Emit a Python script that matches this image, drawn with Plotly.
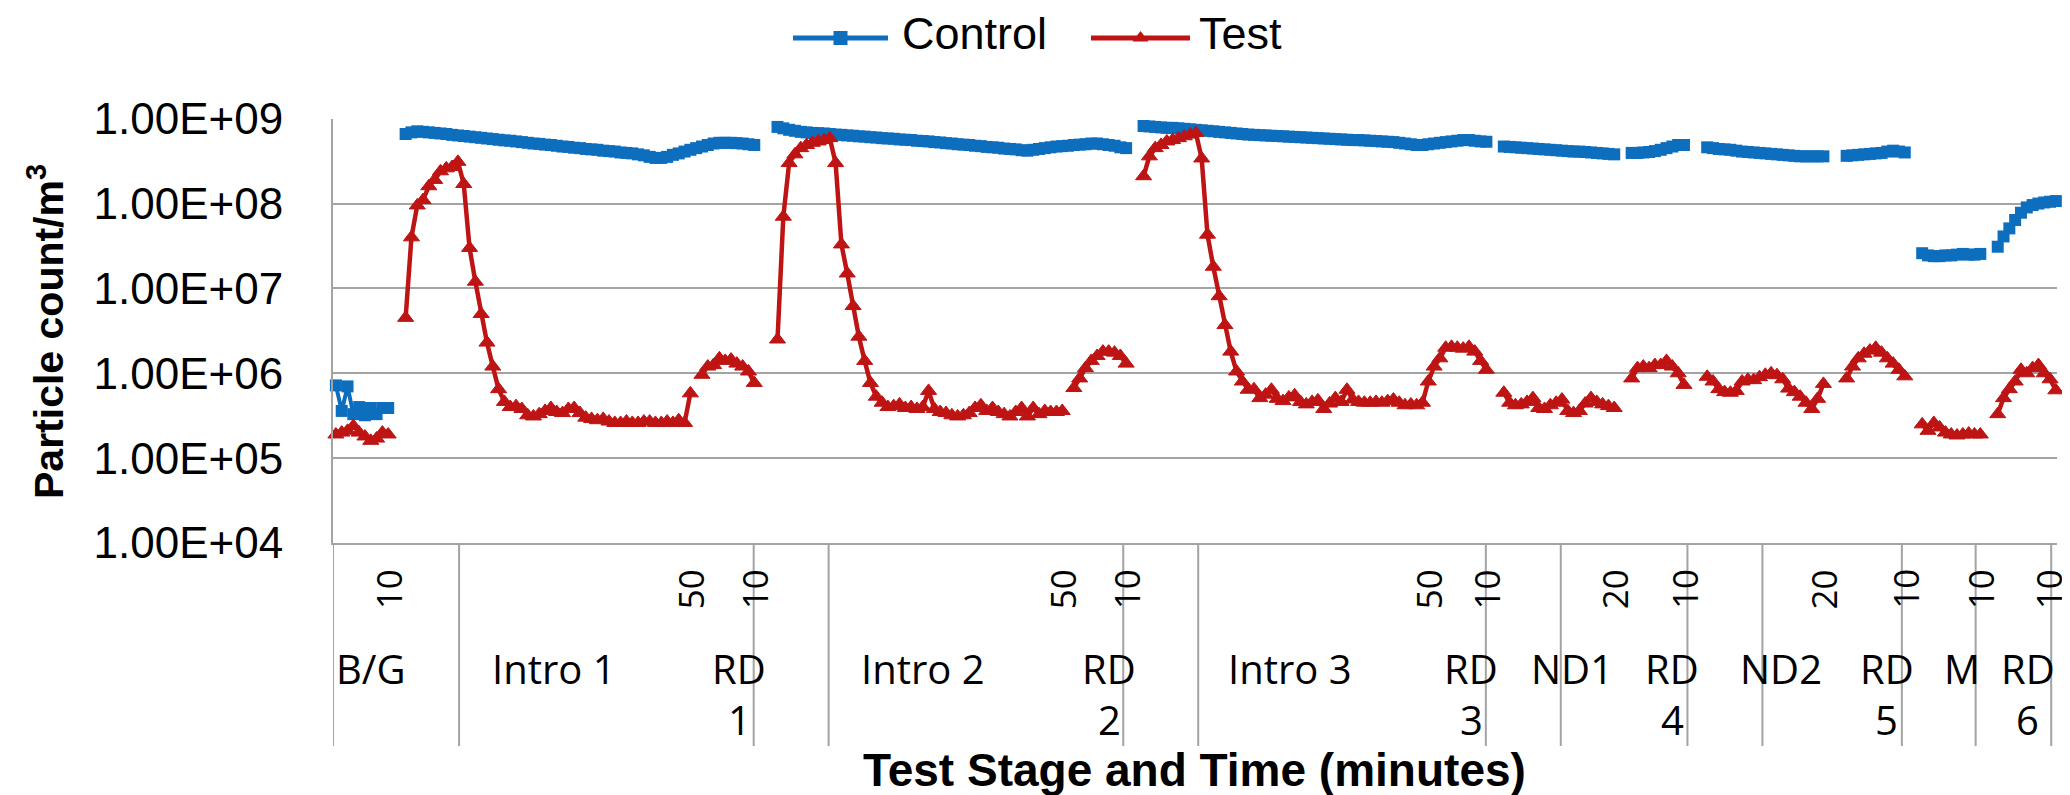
import math
import plotly.graph_objects as go

W, H = 2070, 795

# ---------------- data ----------------
stage_names = ["B/G", "Intro 1", "RD 1", "Intro 2", "RD 2", "Intro 3", "RD 3",
               "ND1", "RD 4", "ND2", "RD 5", "M", "RD 6"]
# first category index of each stage (blank categories between stages)
stage_first = [0, 12, 62, 76, 126, 139, 189, 201, 223, 236, 260, 273, 286]
# minute label shown at the end of each stage
stage_end_minute = ["10", "50", "10", "50", "10", "50", "10", "20", "10", "20", "10", "10", "10"]
# category positions of the stage-name labels and of the divider lines
group_label_pos = [6.0, 37.5, 69.4, 101.1, 133.1, 164.2, 195.4, 212.7, 230.0, 248.7, 266.9, 279.8, 291.2]
group_dividers = [-0.5, 21.2, 71.9, 84.8, 135.5, 148.4, 197.9, 210.8, 232.6, 245.5, 269.5, 282.2, 295.2]

y_tickvals = [1e4, 1e5, 1e6, 1e7, 1e8, 1e9]
y_ticktext = ["1.00E+04", "1.00E+05", "1.00E+06", "1.00E+07", "1.00E+08", "1.00E+09"]

control_bg = [7.2e5, 3.6e5, 7.0e5, 3.3e5, 4.0e5, 3.2e5, 3.9e5, 3.3e5, 3.9e5, 3.9e5]
test_bg = [1.9e5, 2.0e5, 2.1e5, 2.4e5, 2.0e5, 1.8e5, 1.6e5, 1.7e5, 2.0e5, 1.9e5]

control_intro1 = [6.6e8, 6.9e8, 7.1e8, 7.0e8, 6.9e8, 6.8e8, 6.7e8, 6.6e8, 6.45e8, 6.35e8,
                  6.25e8, 6.15e8, 6.05e8, 5.95e8, 5.85e8, 5.75e8, 5.65e8, 5.55e8, 5.5e8, 5.4e8,
                  5.3e8, 5.2e8, 5.1e8, 5.05e8, 4.95e8, 4.9e8, 4.8e8, 4.7e8, 4.65e8, 4.55e8,
                  4.5e8, 4.4e8, 4.35e8, 4.3e8, 4.2e8, 4.15e8, 4.1e8, 4.0e8, 3.95e8, 3.9e8,
                  3.8e8, 3.7e8, 3.55e8, 3.45e8, 3.45e8, 3.55e8, 3.75e8, 3.9e8, 4.1e8, 4.3e8]
test_intro1 = [4.5e6, 4.0e7, 9.5e7, 1.1e8, 1.6e8, 1.9e8, 2.4e8, 2.6e8, 2.7e8, 3.1e8,
               1.7e8, 3.0e7, 1.2e7, 5.0e6, 2.3e6, 1.2e6, 6.5e5, 4.6e5, 4.0e5, 4.1e5,
               3.8e5, 3.2e5, 3.1e5, 3.3e5, 3.6e5, 3.9e5, 3.5e5, 3.4e5, 3.8e5, 3.9e5,
               3.4e5, 3.0e5, 2.9e5, 2.8e5, 2.9e5, 2.7e5, 2.6e5, 2.6e5, 2.7e5, 2.6e5,
               2.6e5, 2.7e5, 2.7e5, 2.6e5, 2.6e5, 2.7e5, 2.6e5, 2.8e5, 2.6e5, 5.8e5]

control_rd1 = [4.5e8, 4.7e8, 4.9e8, 5.1e8, 5.2e8, 5.2e8, 5.2e8, 5.15e8, 5.1e8, 5.0e8, 4.9e8]
test_rd1 = [None, 9.6e5, 1.2e6, 1.25e6, 1.5e6, 1.4e6, 1.45e6, 1.3e6, 1.2e6, 1.05e6, 7.7e5]

control_intro2 = [8.0e8, 7.7e8, 7.4e8, 7.2e8, 7.0e8, 6.9e8, 6.8e8, 6.75e8, 6.7e8, 6.6e8,
                  6.5e8, 6.45e8, 6.35e8, 6.3e8, 6.2e8, 6.15e8, 6.05e8, 6.0e8, 5.9e8, 5.85e8,
                  5.8e8, 5.7e8, 5.65e8, 5.6e8, 5.5e8, 5.45e8, 5.4e8, 5.3e8, 5.25e8, 5.15e8,
                  5.1e8, 5.0e8, 4.95e8, 4.9e8, 4.8e8, 4.75e8, 4.65e8, 4.6e8, 4.55e8, 4.45e8,
                  4.4e8, 4.35e8, 4.25e8, 4.2e8, 4.3e8, 4.4e8, 4.5e8, 4.6e8, 4.7e8, 4.75e8]
test_intro2 = [2.5e6, 7.0e7, 3.0e8, 3.8e8, 4.5e8, 4.9e8, 5.2e8, 5.4e8, 5.6e8, 5.9e8,
               3.0e8, 3.3e7, 1.5e7, 6.2e6, 2.7e6, 1.4e6, 7.7e5, 5.3e5, 4.5e5, 4.0e5,
               4.1e5, 4.3e5, 3.9e5, 4.0e5, 3.8e5, 4.0e5, 6.2e5, 3.8e5, 3.5e5, 3.4e5,
               3.2e5, 3.1e5, 3.2e5, 3.4e5, 3.9e5, 4.2e5, 3.6e5, 3.9e5, 3.5e5, 3.3e5,
               3.1e5, 3.5e5, 3.9e5, 3.1e5, 3.9e5, 3.3e5, 3.6e5, 3.5e5, 3.5e5, 3.6e5]

control_rd2 = [4.8e8, 4.9e8, 4.95e8, 5.0e8, 5.1e8, 5.1e8, 5.0e8, 4.9e8, 4.8e8, 4.6e8, 4.5e8]
test_rd2 = [None, 6.7e5, 8.7e5, 1.15e6, 1.4e6, 1.6e6, 1.8e6, 1.8e6, 1.75e6, 1.6e6, 1.3e6]

control_intro3 = [8.2e8, 8.1e8, 8.0e8, 7.9e8, 7.8e8, 7.8e8, 7.7e8, 7.6e8, 7.5e8, 7.4e8,
                  7.3e8, 7.2e8, 7.1e8, 7.0e8, 6.9e8, 6.8e8, 6.7e8, 6.6e8, 6.5e8, 6.45e8,
                  6.4e8, 6.35e8, 6.3e8, 6.25e8, 6.2e8, 6.15e8, 6.1e8, 6.05e8, 6.0e8, 5.95e8,
                  5.9e8, 5.85e8, 5.8e8, 5.75e8, 5.7e8, 5.65e8, 5.6e8, 5.6e8, 5.55e8, 5.5e8,
                  5.45e8, 5.4e8, 5.35e8, 5.3e8, 5.2e8, 5.1e8, 5.0e8, 4.9e8, 4.9e8, 5.0e8]
test_intro3 = [2.1e8, 3.6e8, 4.5e8, 4.9e8, 5.4e8, 5.6e8, 5.9e8, 6.2e8, 6.5e8, 6.8e8,
               3.4e8, 4.3e7, 1.8e7, 8.1e6, 3.7e6, 1.8e6, 1.05e6, 8.0e5, 6.4e5, 6.5e5,
               5.1e5, 5.6e5, 6.4e5, 5.0e5, 4.7e5, 5.2e5, 5.5e5, 4.6e5, 4.3e5, 4.6e5,
               4.8e5, 3.8e5, 4.4e5, 5.1e5, 4.6e5, 6.4e5, 4.9e5, 4.6e5, 4.5e5, 4.5e5,
               4.6e5, 4.5e5, 4.7e5, 4.9e5, 4.5e5, 4.2e5, 4.3e5, 4.2e5, 4.5e5, 8.0e5]

control_rd3 = [5.1e8, 5.2e8, 5.3e8, 5.4e8, 5.5e8, 5.6e8, 5.6e8, 5.5e8, 5.4e8, 5.35e8]
test_rd3 = [1.2e6, 1.5e6, 2.0e6, 2.05e6, 2.0e6, 1.95e6, 2.05e6, 1.8e6, 1.4e6, 1.1e6]

control_nd1 = [4.7e8, 4.65e8, 4.6e8, 4.55e8, 4.5e8, 4.45e8, 4.4e8, 4.35e8, 4.3e8, 4.25e8,
               4.2e8, 4.15e8, 4.1e8, 4.1e8, 4.05e8, 4.0e8, 3.95e8, 3.9e8, 3.85e8, 3.8e8]
test_nd1 = [5.9e5, 4.5e5, 4.2e5, 4.3e5, 4.6e5, 5.1e5, 3.9e5, 3.8e5, 4.2e5, 4.5e5,
            4.9e5, 3.6e5, 3.4e5, 3.6e5, 4.4e5, 5.1e5, 4.6e5, 4.3e5, 4.1e5, 3.9e5]

control_rd4 = [3.95e8, 3.95e8, 4.0e8, 4.05e8, 4.15e8, 4.3e8, 4.5e8, 4.7e8, 4.9e8, 4.9e8]
test_rd4 = [8.7e5, 1.15e6, 1.2e6, 1.15e6, 1.25e6, 1.25e6, 1.4e6, 1.2e6, 1.0e6, 7.3e5]

control_nd2 = [4.6e8, 4.5e8, 4.4e8, 4.35e8, 4.3e8, 4.2e8, 4.1e8, 4.05e8, 4.0e8, 3.95e8,
               3.9e8, 3.85e8, 3.8e8, 3.75e8, 3.7e8, 3.65e8, 3.6e8, 3.6e8, 3.6e8, 3.6e8, 3.6e8]
test_nd2 = [9.1e5, 8.0e5, 6.5e5, 6.0e5, 5.9e5, 6.2e5, 8.0e5, 8.4e5, 8.3e5, 9.0e5,
            9.6e5, 1.0e6, 9.5e5, 8.5e5, 6.6e5, 6.0e5, 5.3e5, 4.5e5, 3.8e5, 5.0e5, 7.5e5]

control_rd5 = [3.65e8, 3.7e8, 3.75e8, 3.8e8, 3.85e8, 3.9e8, 3.95e8, 4.1e8, 4.2e8, 4.1e8, 4.0e8]
test_rd5 = [8.7e5, 1.2e6, 1.5e6, 1.7e6, 1.85e6, 2.0e6, 1.75e6, 1.5e6, 1.3e6, 1.1e6, 9.2e5]

control_m = [2.6e7, 2.45e7, 2.4e7, 2.4e7, 2.45e7, 2.45e7, 2.5e7, 2.55e7, 2.5e7, 2.5e7, 2.55e7]
test_m = [2.5e5, 2.1e5, 2.6e5, 2.3e5, 2.0e5, 1.9e5, 1.85e5, 1.9e5, 1.95e5, 1.9e5, 1.9e5]

control_rd6 = [3.1e7, 4.1e7, 5.1e7, 6.4e7, 7.8e7, 9.0e7, 9.6e7, 1.0e8, 1.03e8, 1.05e8, 1.07e8]
test_rd6 = [3.3e5, 5.1e5, 6.5e5, 8.0e5, 1.1e6, 1.0e6, 1.15e6, 1.25e6, 1.0e6, 8.5e5, 6.3e5]

control_stages = [control_bg, control_intro1, control_rd1, control_intro2, control_rd2,
                  control_intro3, control_rd3, control_nd1, control_rd4, control_nd2,
                  control_rd5, control_m, control_rd6]
test_stages = [test_bg, test_intro1, test_rd1, test_intro2, test_rd2,
               test_intro3, test_rd3, test_nd1, test_rd4, test_nd2,
               test_rd5, test_m, test_rd6]

# ---------------- styles ----------------
BLUE = "#0E6EBE"
RED = "#BE1414"
GRID = "#A3A3A3"
CAT_FONT = "Open Sans"
MAIN_FONT = "Liberation Sans, Arial, sans-serif"
X_RANGE = [-0.5, 296.2]


def build(stages):
    xs, ys = [], []
    prev_end = None
    for first, vals in zip(stage_first, stages):
        if prev_end is not None and first != prev_end + 1:
            xs.append(None)
            ys.append(None)
        for i, v in enumerate(vals):
            xs.append(first + i)
            ys.append(v)
        prev_end = first + len(vals) - 1
    return xs, ys


def px_x(p):
    return p / W


def px_y(p):
    return 1 - p / H


cx, cy = build(control_stages)
tx, ty = build(test_stages)

fig = go.Figure()
fig.add_trace(go.Scatter(x=cx, y=cy, name="Control", mode="lines+markers",
                         line=dict(color=BLUE, width=4),
                         marker=dict(symbol="square", size=12, color=BLUE),
                         connectgaps=False, cliponaxis=False, showlegend=False))
fig.add_trace(go.Scatter(x=tx, y=ty, name="Test", mode="lines+markers",
                         line=dict(color=RED, width=4.5),
                         marker=dict(symbol="triangle-up", size=14, color=RED,
                                     line=dict(color=RED, width=1)),
                         connectgaps=False, cliponaxis=False, showlegend=False))

# ----- legend samples (drawn on a pixel-space overlay axis) -----
for color, symbol, x0, x1 in [(BLUE, "square", 785, 880), (RED, "triangle-up", 1083, 1182)]:
    fig.add_trace(go.Scatter(x=[x0, x1], y=[30, 30], mode="lines", xaxis="x2", yaxis="y2",
                             line=dict(color=color, width=5), showlegend=False, hoverinfo="skip"))
    fig.add_trace(go.Scatter(x=[(x0 + x1) / 2], y=[30], mode="markers", xaxis="x2", yaxis="y2",
                             marker=dict(symbol=symbol, size=14, color=color),
                             showlegend=False, hoverinfo="skip"))

annotations = []
for name, tx0 in [("Control", 892), ("Test", 1189)]:
    annotations.append(dict(text=name, x=px_x(tx0), y=px_y(26), xref="paper", yref="paper",
                            xanchor="left", yanchor="middle", showarrow=False,
                            font=dict(family=MAIN_FONT, size=45, color="black")))

# axis titles
annotations.append(dict(text="<b>Particle count/m<sup>3</sup></b>", x=px_x(38), y=px_y(324),
                        xref="paper", yref="paper", textangle=-90, showarrow=False,
                        xanchor="center", yanchor="middle",
                        font=dict(family=MAIN_FONT, size=41, color="black")))
annotations.append(dict(text="<b>Test Stage and Time (minutes)</b>", x=px_x(1186), y=px_y(762),
                        xref="paper", yref="paper", showarrow=False,
                        xanchor="center", yanchor="middle",
                        font=dict(family=MAIN_FONT, size=46, color="black")))

# minute labels at end of each stage (rotated)
for first, vals, lab in zip(stage_first, control_stages, stage_end_minute):
    last = min(first + len(vals) - 1, X_RANGE[1] - 1.5)
    annotations.append(dict(text=lab, x=last, xref="x", y=px_y(581), yref="paper",
                            textangle=-90, showarrow=False, xanchor="center", yanchor="middle",
                            font=dict(family=CAT_FONT, size=35, color="black")))

# stage names
for name, pos in zip(stage_names, group_label_pos):
    parts = name.split(" ") if name.startswith("RD ") else [name]
    for k, part in enumerate(parts):
        annotations.append(dict(text=part, x=pos, xref="x", y=px_y(660 + 51 * k), yref="paper",
                                showarrow=False, xanchor="center", yanchor="middle",
                                font=dict(family=CAT_FONT, size=40, color="black")))

shapes = []
for d in group_dividers:
    shapes.append(dict(type="line", xref="x", yref="paper", x0=d, x1=d,
                       y0=px_y(535), y1=px_y(738), line=dict(color=GRID, width=2)))
# short visible tick marks on the value axis
for v in y_tickvals:
    shapes.append(dict(type="line", xref="paper", yref="y", x0=px_x(311.5), x1=px_x(325),
                       y0=math.log10(v), y1=math.log10(v), line=dict(color=GRID, width=2)))

fig.update_layout(
    width=W, height=H,
    margin=dict(l=0, r=0, t=0, b=0),
    paper_bgcolor="white", plot_bgcolor="rgba(0,0,0,0)",
    showlegend=False,
    xaxis=dict(domain=[px_x(325), px_x(2049)], range=X_RANGE,
               showticklabels=False, ticks="", showgrid=False, zeroline=False,
               showline=True, linecolor=GRID, linewidth=2, automargin=False),
    yaxis=dict(domain=[px_y(535), px_y(110.7)], type="log", range=[4, 9],
               tickvals=y_tickvals, ticktext=y_ticktext,
               ticks="outside", ticklen=39, tickwidth=1, tickcolor="rgba(0,0,0,0)",
               showgrid=True, gridcolor=GRID, gridwidth=2, zeroline=False,
               showline=True, linecolor=GRID, linewidth=2,
               tickfont=dict(family=MAIN_FONT, size=44, color="black"),
               automargin=False),
    xaxis2=dict(domain=[0, 1], range=[0, W], visible=False, anchor="y2", fixedrange=True),
    yaxis2=dict(domain=[0, 1], range=[H, 0], visible=False, anchor="x2", fixedrange=True),
    annotations=annotations,
    shapes=shapes,
)

fig.write_html("out.html")
